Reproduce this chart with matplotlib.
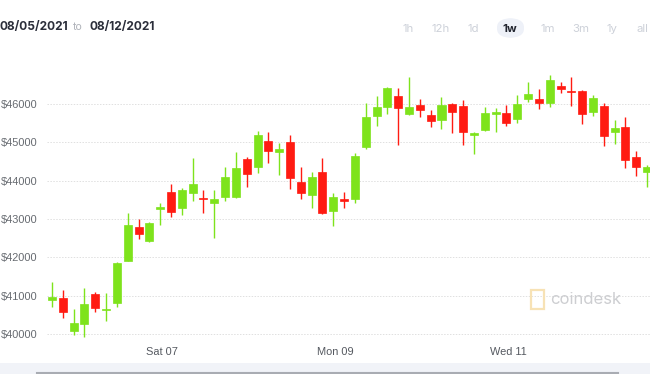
import numpy as np
from matplotlib import pyplot as plt
from matplotlib.patches import Rectangle, FancyBboxPatch

# 3-hour candles, BTC/USD, 08/05/2021 to 08/12/2021
opens = [40890, 40940, 40090, 40260, 41040, 40620, 40820, 41910, 42780, 42440,
         43260, 43700, 43280, 43680, 43540, 43410, 43570, 43570, 44560, 44350,
         45030, 44750, 45010, 43970, 43630, 44230, 43210, 43510, 43510, 44870,
         45690, 45910, 46210, 45730, 45970, 45720, 45580, 45990, 45940, 45200,
         45320, 45740, 45750, 45600, 46120, 46120, 46010, 46470, 46320, 46340,
         45790, 45940, 45270, 45390, 44620, 44220]
closes = [40970, 40590, 40300, 40790, 40690, 40640, 41850, 42840, 42610, 42900,
          43290, 43190, 43750, 43910, 43510, 43510, 44100, 44320, 44170, 45200,
          44770, 44820, 44060, 43680, 44100, 43150, 43580, 43460, 44640, 45660,
          45920, 46400, 45880, 45910, 45840, 45560, 45970, 45780, 45270, 45230,
          45770, 45760, 45510, 45990, 46250, 46030, 46620, 46380, 46300, 45730,
          46140, 45160, 45380, 44540, 44350, 44360]
highs = [41370, 41150, 40650, 41200, 41110, 41070, 41890, 43160, 42990, 42930,
         43410, 43910, 43800, 44580, 43760, 43760, 44360, 44750, 44620, 45300,
         45270, 44970, 45190, 44350, 44220, 44580, 43670, 43710, 44710, 46030,
         46200, 46430, 46400, 46690, 46120, 45840, 46170, 46030, 46100, 45270,
         45920, 45880, 45970, 46230, 46560, 46380, 46750, 46570, 46700, 46350,
         46230, 46030, 45590, 45660, 44780, 44400]
lows = [40720, 40420, 39980, 39940, 40590, 40350, 40720, 41900, 42470, 42400,
        42840, 43060, 43100, 43480, 43150, 42500, 43480, 43540, 43830, 44210,
        44470, 44150, 43780, 43510, 43280, 43140, 42830, 43290, 43410, 44810,
        45420, 45730, 44930, 45720, 45660, 45400, 45340, 45250, 44930, 44680,
        45300, 45270, 45420, 45490, 46050, 45860, 45920, 46290, 45940, 45470,
        45680, 44900, 44950, 44320, 44120, 43840]

# hours since first candle centre (08/05 17:30)
tick_hours = [30.5, 78.5, 126.5]
tick_labels = ["Sat 07", "Mon 09", "Wed 11"]
ytick_vals = [40000, 41000, 42000, 43000, 44000, 45000, 46000]

GREEN = '#7ee31c'
RED = '#ff1b12'

fig = plt.figure(figsize=(6.5, 3.74), dpi=100)
fig.patch.set_facecolor('white')

ax = fig.add_axes([47/650, 34/374, 603/650, 280/374])
hours = np.arange(len(opens)) * 3.0
w = 3.0 * 0.74
for t, o, h, l, c in zip(hours, opens, highs, lows, closes):
    col = GREEN if c >= o else RED
    ax.plot([t, t], [l, h], color=col, lw=1.0, solid_capstyle='butt', zorder=2)
    bottom = min(o, c)
    height = max(abs(c - o), 45)
    ax.add_patch(Rectangle((t - w/2, bottom), w, height, facecolor=col,
                           edgecolor=col, lw=0.5, zorder=3))

ax.set_xlim(-0.46*3, 55.27*3)
ax.set_ylim(39850, 47140)
for s in ax.spines.values():
    s.set_visible(False)
ax.set_yticks(ytick_vals)
ax.set_yticklabels(['$%d' % v for v in ytick_vals])
ax.set_xticks(tick_hours)
ax.set_xticklabels(tick_labels)
ax.tick_params(length=0, labelsize=7.9, colors='#666a70', pad=7)
ax.tick_params(axis='x', pad=5, colors='#555960')
for lbl in ax.get_yticklabels() + ax.get_xticklabels():
    lbl.set_family('Liberation Sans')
ax.grid(axis='y', color='#e0e0e0', lw=0.7, ls=(0, (1.5, 1.5)))
ax.set_axisbelow(True)

# watermark
fig.text(550/650, 1 - 299/374, 'coindesk', fontsize=12, color='#cdced1',
         va='center', ha='left', family='Inter')
fig.patches.append(Rectangle((531/650, 1 - 309/374), 13/650, 19/374,
                             transform=fig.transFigure, fill=False,
                             edgecolor='#f7e2b5', lw=1.6))

# header
fig.text(0/650, 1 - 27/374, '08/05/2021', fontsize=8.6, fontweight='bold',
         color='#2b2e3a', va='center', ha='left', family='Inter')
fig.text(73/650, 1 - 27/374, 'to', fontsize=7.6, color='#b0b3ba',
         va='center', ha='left', family='Inter')
fig.text(90/650, 1 - 27/374, '08/12/2021', fontsize=8.6, fontweight='bold',
         color='#2b2e3a', va='center', ha='left', family='Inter')

fig.patches.append(FancyBboxPatch((497/650, 1 - 38/374), 27/650, 20/374,
                                  boxstyle='round,pad=0,rounding_size=0.025',
                                  transform=fig.transFigure, facecolor='#eef1f8',
                                  edgecolor='none'))
ranges = ['1h', '12h', '1d', '1w', '1m', '3m', '1y', 'all']
range_x = [408, 441, 473, 510, 548, 581, 612, 642]
for r, x in zip(ranges, range_x):
    active = r == '1w'
    fig.text(x/650, 1 - 29/374, r, fontsize=8.2, ha='center', va='center',
             family='Inter', fontweight='bold' if active else 'normal',
             color='#22252f' if active else '#cdd1d9')

# bottom scroll band
fig.patches.append(Rectangle((0, 0), 1, 11/374, transform=fig.transFigure,
                             facecolor='#f1f3f8', edgecolor='none'))
fig.lines.append(plt.Line2D([37/650, 618/650], [1/374, 1/374],
                            transform=fig.transFigure, color='#a9acb3', lw=1.5))

plt.savefig('out.png', dpi=100)
